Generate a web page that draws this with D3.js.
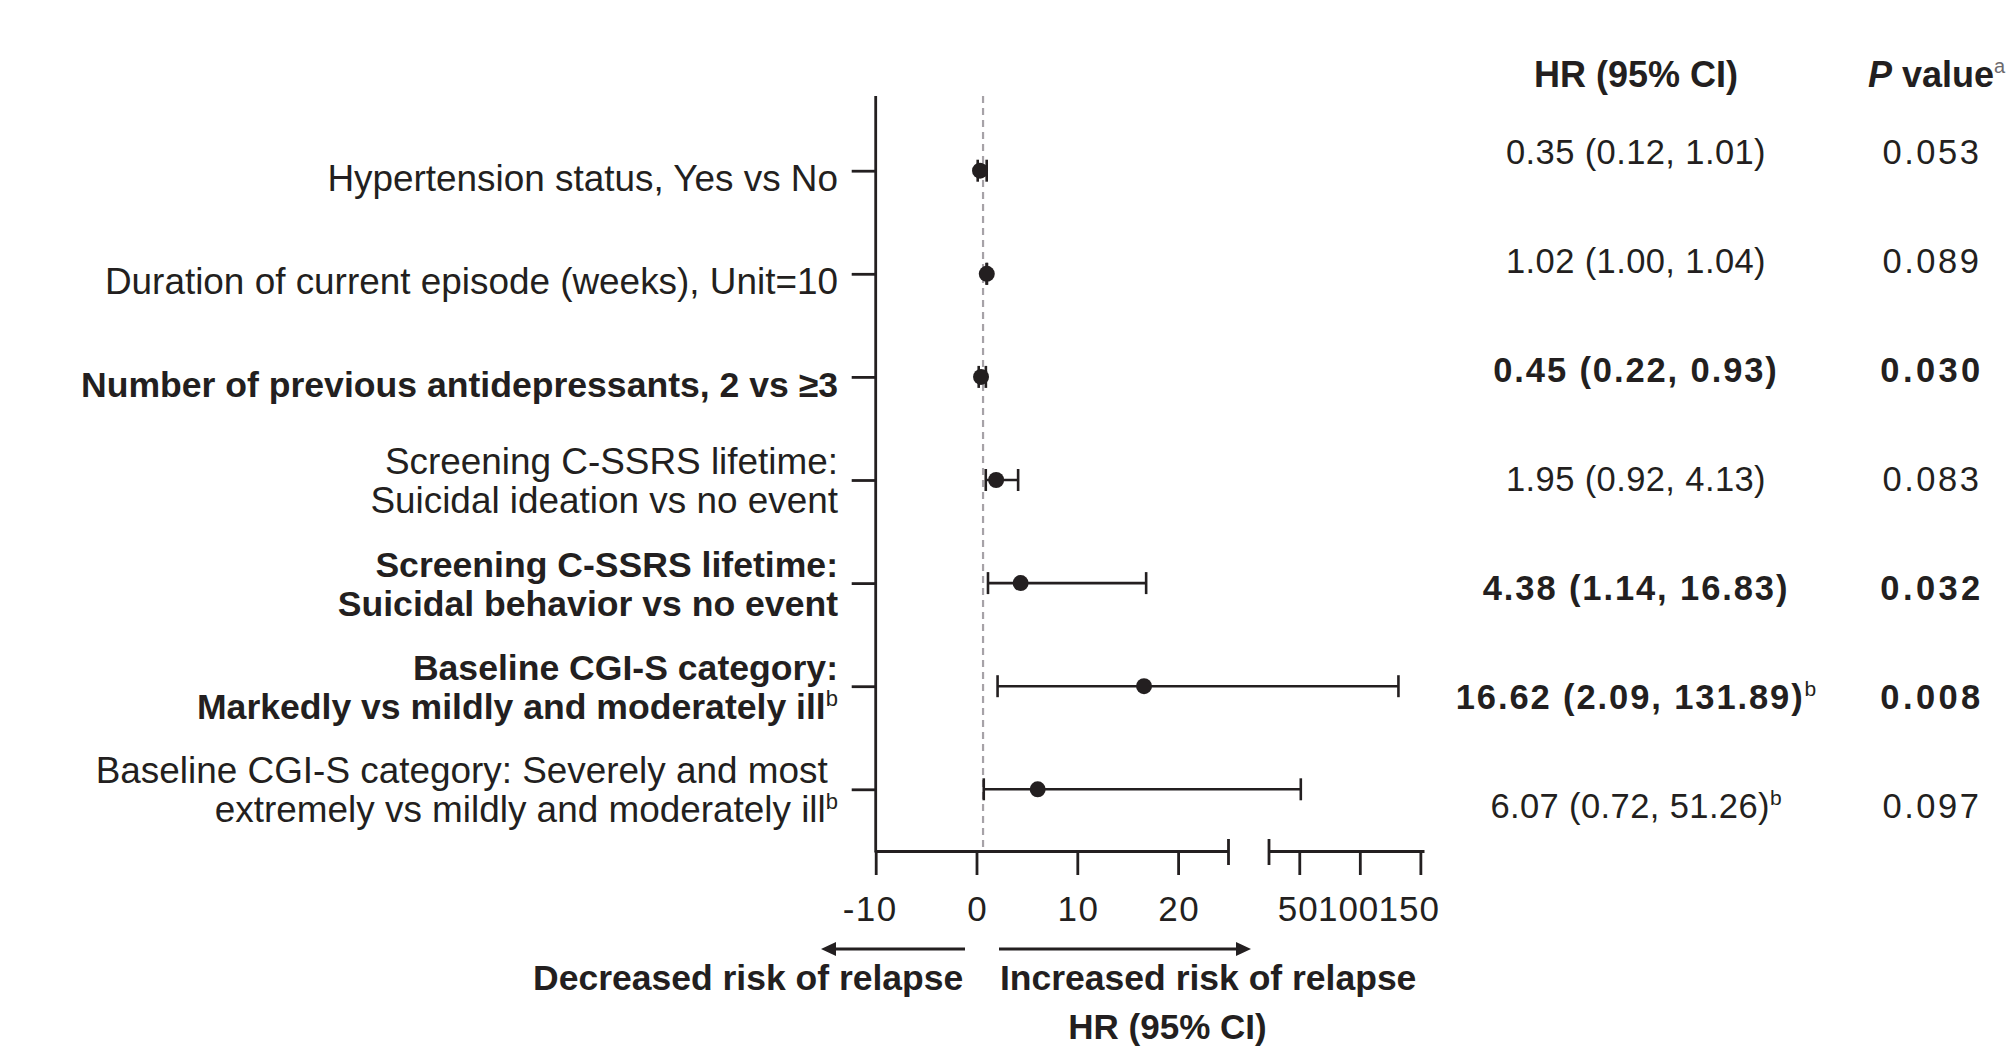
<!DOCTYPE html>
<html>
<head>
<meta charset="utf-8">
<script src="https://cdn.jsdelivr.net/npm/d3@7"></script>
<style>
  html, body { margin: 0; padding: 0; background: #ffffff; }
  svg { display: block; color: #231f20; }
  text { font-family: "Liberation Sans", Arial, Helvetica, sans-serif; fill: #231f20; }
</style>
</head>
<body>
<svg id="chart" width="2012" height="1047"></svg>
<script>
// ---------------- data ----------------
const labels = [
  ["Hypertension status, Yes vs No"],
  ["Duration of current episode (weeks), Unit=10"],
  ["Number of previous antidepressants, 2 vs \u22653"],
  ["Screening C-SSRS lifetime:", "Suicidal ideation vs no event"],
  ["Screening C-SSRS lifetime:", "Suicidal behavior vs no event"],
  ["Baseline CGI-S category:", "Markedly vs mildly and moderately ill"],
  ["Baseline CGI-S category: Severely and most\u00A0", "extremely vs mildly and moderately ill"]
];
const labelNotes = ["", "", "", "", "", "b", "b"];
const hrNotes = ["", "", "", "", "", "b", "b"];
const significant = [false, false, true, false, true, true, false];
const hr = [0.35, 1.02, 0.45, 1.95, 4.38, 16.62, 6.07];
const lower = [0.12, 1.00, 0.22, 0.92, 1.14, 2.09, 0.72];
const upper = [1.01, 1.04, 0.93, 4.13, 16.83, 131.89, 51.26];
const pValues = ["0.053", "0.089", "0.030", "0.083", "0.032", "0.008", "0.097"];
const ticksLow = [-10, 0, 10, 20];
const ticksHigh = [50, 100, 150];
const refLineValue = 0.65;

// ---------------- layout ----------------
const ink = "#231f20";
const svg = d3.select("#chart");
const rowIds = d3.range(labels.length);
const plotTop = 96, axisY = 851;
const labelRight = 838;
const hrColX = 1636, pColX = 1932;

const y = d3.scalePoint().domain(rowIds).range([170.7, 789.3]);
const yTable = d3.scalePoint().domain(rowIds).range([163.6, 817.7]);
const xLow = d3.scaleLinear().domain([-10, 25]).range([875.7, 1228.5]);
const xHigh = d3.scaleLinear().domain([25, 153]).range([1269, 1424]);
const x = v => (v <= 25 ? xLow(v) : xHigh(v));

// reference dashed line
svg.append("line")
  .attr("x1", x(refLineValue)).attr("x2", x(refLineValue))
  .attr("y1", plotTop).attr("y2", axisY)
  .attr("stroke", "#a6a2a7").attr("stroke-width", 2.2)
  .attr("stroke-dasharray", "7,5");

// y axis spine + ticks
svg.append("line")
  .attr("x1", xLow(-10)).attr("x2", xLow(-10))
  .attr("y1", plotTop).attr("y2", axisY + 1.4)
  .attr("stroke", ink).attr("stroke-width", 2.8);
const gy = svg.append("g")
  .attr("transform", `translate(${xLow(-10)},0)`)
  .call(d3.axisLeft(y).tickSize(24).tickFormat(""));
gy.select(".domain").remove();
gy.selectAll(".tick line").attr("stroke", ink).attr("stroke-width", 2.8);

// x axes (broken)
function styleAxis(g) {
  g.select(".domain").attr("stroke", ink).attr("stroke-width", 2.8);
  g.selectAll(".tick line").attr("stroke", ink).attr("stroke-width", 2.8);
  g.selectAll(".tick text").style("font-size", "35px");
}
const plainFormat = d => String(d);
svg.append("g")
  .attr("transform", `translate(0,${axisY})`)
  .call(d3.axisBottom(xLow).tickValues(ticksLow).tickFormat(plainFormat)
    .tickSize(24).tickSizeOuter(0).tickPadding(21))
  .call(styleAxis)
  .call(g => g.selectAll(".tick text")
    .style("letter-spacing", "1.5px")
    .attr("dx", d => d < 0 ? "-0.17em" : "0.02em"));
svg.append("g")
  .attr("transform", `translate(0,${axisY})`)
  .call(d3.axisBottom(xHigh).tickValues(ticksHigh).tickFormat(plainFormat)
    .tickSize(24).tickSizeOuter(0).tickPadding(21))
  .call(styleAxis)
  .call(g => g.selectAll(".tick text")
    .style("letter-spacing", "1px")
    .attr("text-anchor", "end")
    .attr("dx", 19));
[xLow(25), xHigh(25)].forEach(bx => {
  svg.append("line")
    .attr("x1", bx).attr("x2", bx)
    .attr("y1", axisY - 12).attr("y2", axisY + 14)
    .attr("stroke", ink).attr("stroke-width", 2.8);
});

// CI rows
const rows = svg.append("g").selectAll("g").data(rowIds).join("g")
  .attr("transform", i => `translate(0,${y(i)})`);
rows.append("line")
  .attr("x1", i => x(lower[i])).attr("x2", i => x(upper[i]))
  .attr("y1", 0).attr("y2", 0)
  .attr("stroke", ink).attr("stroke-width", 2.6);
rows.append("line")
  .attr("x1", i => x(lower[i])).attr("x2", i => x(lower[i]))
  .attr("y1", -11).attr("y2", 11)
  .attr("stroke", ink).attr("stroke-width", 2.6);
rows.append("line")
  .attr("x1", i => x(upper[i])).attr("x2", i => x(upper[i]))
  .attr("y1", -11).attr("y2", 11)
  .attr("stroke", ink).attr("stroke-width", 2.6);
rows.append("circle")
  .attr("cx", i => x(hr[i])).attr("cy", 0).attr("r", 8)
  .attr("fill", ink);

// row labels
rows.append("text")
  .attr("text-anchor", "end")
  .style("font-size", i => significant[i] ? "35.6px" : "36.9px")
  .style("font-weight", i => significant[i] ? 700 : 400)
  .each(function (i) {
    const t = d3.select(this);
    const lines = labels[i];
    const first = lines.length === 1 ? 20 : -6;
    lines.forEach((s, k) => {
      t.append("tspan").attr("x", labelRight).attr("y", first + k * 38.5).text(s);
    });
    if (labelNotes[i]) {
      t.append("tspan").style("font-size", "22px").style("font-weight", 400)
        .attr("dy", -13).text(labelNotes[i]);
    }
  });

// table
const fmt = d3.format(".2f");
svg.append("g").selectAll("text").data(rowIds).join("text")
  .attr("x", hrColX).attr("y", i => yTable(i))
  .attr("text-anchor", "middle")
  .style("font-size", "34.5px")
  .style("font-weight", i => significant[i] ? 700 : 400)
  .style("letter-spacing", i => significant[i] ? "1.9px" : "0.4px")
  .each(function (i) {
    const t = d3.select(this);
    t.append("tspan").text(`${fmt(hr[i])} (${fmt(lower[i])}, ${fmt(upper[i])})`);
    if (hrNotes[i]) {
      t.append("tspan").style("font-size", "21px").style("font-weight", 400)
        .style("letter-spacing", "0px").attr("dy", -13).text(hrNotes[i]);
    }
  });
svg.append("g").selectAll("text").data(rowIds).join("text")
  .attr("x", pColX).attr("y", i => yTable(i))
  .attr("text-anchor", "middle")
  .style("font-size", "34.5px")
  .style("font-weight", i => significant[i] ? 700 : 400)
  .style("letter-spacing", i => significant[i] ? "3.4px" : "2.5px")
  .text(i => pValues[i]);

// headers
svg.append("text")
  .attr("x", hrColX).attr("y", 86.7)
  .attr("text-anchor", "middle")
  .style("font-size", "36px").style("font-weight", 700)
  .text("HR (95% CI)");
const ph = svg.append("text")
  .attr("x", 1868).attr("y", 86.7)
  .style("font-size", "36px").style("font-weight", 700);
ph.append("tspan").style("font-style", "italic").text("P");
ph.append("tspan").text(" value");
ph.append("tspan").style("font-size", "20px").style("font-weight", 400)
  .style("fill", "#6d6a6e").attr("dy", -14).text("a");

// direction arrows
const arrowY = 949;
svg.append("line").attr("x1", 965).attr("x2", 834).attr("y1", arrowY).attr("y2", arrowY)
  .attr("stroke", ink).attr("stroke-width", 2.8);
svg.append("polygon")
  .attr("points", `821,${arrowY} 836,${arrowY - 7} 836,${arrowY + 7}`)
  .attr("fill", ink);
svg.append("line").attr("x1", 999).attr("x2", 1238).attr("y1", arrowY).attr("y2", arrowY)
  .attr("stroke", ink).attr("stroke-width", 2.8);
svg.append("polygon")
  .attr("points", `1251,${arrowY} 1236,${arrowY - 7} 1236,${arrowY + 7}`)
  .attr("fill", ink);

svg.append("text")
  .attr("x", 963.3).attr("y", 990)
  .attr("text-anchor", "end")
  .style("font-size", "35.5px").style("font-weight", 700)
  .text("Decreased risk of relapse");
svg.append("text")
  .attr("x", 1000).attr("y", 990)
  .style("font-size", "35.5px").style("font-weight", 700)
  .text("Increased risk of relapse");
svg.append("text")
  .attr("x", 1167.5).attr("y", 1039)
  .attr("text-anchor", "middle")
  .style("font-size", "35px").style("font-weight", 700)
  .text("HR (95% CI)");
</script>
</body>
</html>
